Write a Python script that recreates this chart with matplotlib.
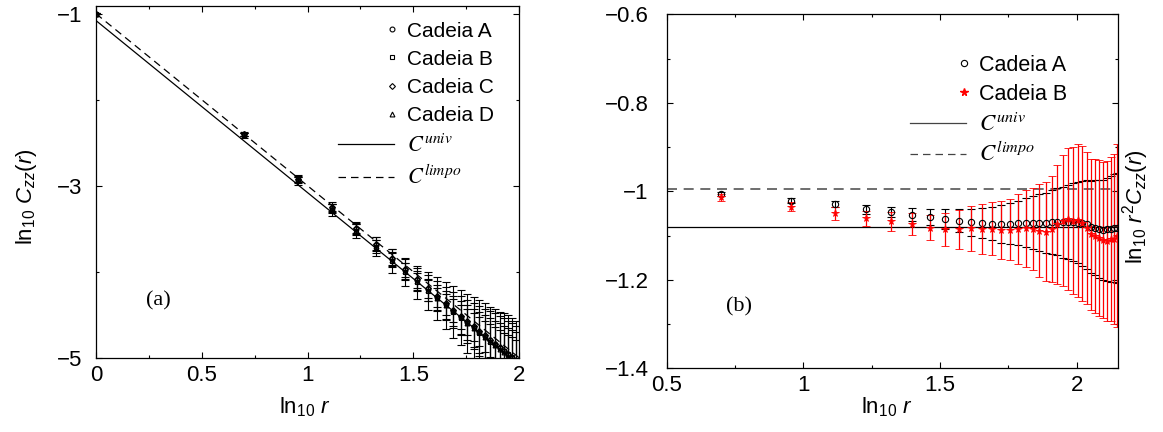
import matplotlib
matplotlib.use('Agg')
import matplotlib.pyplot as plt
from matplotlib.lines import Line2D
from matplotlib.legend_handler import HandlerBase
from matplotlib.ticker import FixedLocator, FuncFormatter

plt.rcParams['font.family'] = ['Liberation Sans', 'DejaVu Sans']
plt.rcParams['mathtext.fontset'] = 'custom'
plt.rcParams['mathtext.rm'] = 'Liberation Sans'
plt.rcParams['mathtext.it'] = 'Liberation Sans:italic'
plt.rcParams['mathtext.bf'] = 'Liberation Sans:bold'

# ---- data: panel (a), ln10 C_zz(r) for four chains
x_left = [0.000, 0.699, 0.954, 1.114, 1.230, 1.322, 1.398, 1.462, 1.519, 1.568,
          1.613, 1.653, 1.690, 1.724, 1.756, 1.785, 1.813, 1.839, 1.863, 1.886,
          1.908, 1.929, 1.949, 1.968, 1.987]
yA_left = [-1.000, -2.403, -2.928, -3.257, -3.501, -3.691, -3.849, -3.982, -4.101, -4.202,
           -4.296, -4.378, -4.453, -4.522, -4.585, -4.642, -4.697, -4.749, -4.797, -4.843,
           -4.886, -4.927, -4.968, -5.005, -5.044]
yB_left = [-1.000, -2.412, -2.943, -3.278, -3.521, -3.712, -3.871, -4.006, -4.123, -4.222,
           -4.310, -4.391, -4.468, -4.537, -4.602, -4.656, -4.709, -4.763, -4.816, -4.857,
           -4.893, -4.920, -4.958, -4.996, -5.040]
yC_left = [-1.000, -2.398, -2.920, -3.248, -3.490, -3.680, -3.836, -3.968, -4.087, -4.190,
           -4.282, -4.366, -4.441, -4.510, -4.574, -4.632, -4.688, -4.740, -4.789, -4.836,
           -4.880, -4.921, -4.961, -5.000, -5.036]
yD_left = [-1.000, -2.407, -2.934, -3.265, -3.510, -3.702, -3.860, -3.994, -4.112, -4.214,
           -4.305, -4.388, -4.462, -4.531, -4.594, -4.650, -4.705, -4.757, -4.806, -4.851,
           -4.895, -4.936, -4.976, -5.014, -5.052]
eA_left = [0.005, 0.02, 0.03, 0.04, 0.05, 0.06, 0.07, 0.08, 0.09, 0.10,
           0.11, 0.12, 0.13, 0.14, 0.15, 0.16, 0.17, 0.18, 0.19, 0.20,
           0.21, 0.22, 0.23, 0.24, 0.25]
eB_left = [0.005, 0.03, 0.05, 0.07, 0.09, 0.11, 0.14, 0.16, 0.19, 0.22,
           0.25, 0.27, 0.30, 0.32, 0.34, 0.36, 0.38, 0.40, 0.41, 0.42,
           0.43, 0.44, 0.45, 0.46, 0.47]
eC_left = [0.005, 0.025, 0.04, 0.055, 0.07, 0.085, 0.10, 0.115, 0.13, 0.15,
           0.17, 0.19, 0.21, 0.23, 0.25, 0.27, 0.29, 0.31, 0.33, 0.35,
           0.37, 0.38, 0.39, 0.40, 0.41]
eD_left = [0.005, 0.02, 0.035, 0.05, 0.06, 0.075, 0.09, 0.10, 0.115, 0.13,
           0.145, 0.16, 0.175, 0.19, 0.205, 0.22, 0.235, 0.25, 0.265, 0.28,
           0.295, 0.31, 0.325, 0.34, 0.355]
line_x_left = [0.0, 2.0]
univ_left = [-1.08, -5.08]
limpo_left = [-1.0, -5.0]

# ---- data: panel (b), ln10 r^2 C_zz(r)
x_right = [0.699, 0.954, 1.114, 1.230, 1.322, 1.398, 1.462, 1.519, 1.568, 1.613,
           1.653, 1.690, 1.724, 1.756, 1.785, 1.813, 1.839, 1.863, 1.886, 1.908,
           1.929, 1.949, 1.968, 1.987, 2.004, 2.021, 2.037, 2.053, 2.068, 2.083,
           2.097, 2.111, 2.124, 2.137, 2.149]
yA_right = [-1.006, -1.021, -1.029, -1.041, -1.047, -1.053, -1.059, -1.063, -1.067, -1.070,
            -1.072, -1.073, -1.074, -1.073, -1.072, -1.071, -1.071, -1.071, -1.071, -1.070,
            -1.069, -1.070, -1.069, -1.070, -1.071, -1.072, -1.075, -1.080, -1.082, -1.085,
            -1.087, -1.086, -1.085, -1.084, -1.083]
eA_right = [0.004, 0.006, 0.007, 0.010, 0.012, 0.015, 0.018, 0.022, 0.026, 0.030,
            0.034, 0.038, 0.042, 0.046, 0.050, 0.055, 0.060, 0.064, 0.068, 0.072,
            0.076, 0.080, 0.084, 0.088, 0.092, 0.096, 0.100, 0.104, 0.107, 0.110,
            0.113, 0.116, 0.119, 0.122, 0.125]
yB_right = [-1.014, -1.035, -1.050, -1.061, -1.068, -1.074, -1.082, -1.086, -1.086, -1.084,
            -1.085, -1.085, -1.087, -1.087, -1.085, -1.083, -1.085, -1.089, -1.091, -1.086,
            -1.075, -1.066, -1.063, -1.066, -1.065, -1.072, -1.083, -1.097, -1.100, -1.106,
            -1.110, -1.112, -1.108, -1.107, -1.100]
eB_right = [0.007, 0.010, 0.014, 0.017, 0.021, 0.024, 0.029, 0.037, 0.044, 0.050,
            0.056, 0.060, 0.065, 0.069, 0.080, 0.087, 0.092, 0.105, 0.111, 0.120,
            0.135, 0.147, 0.160, 0.167, 0.173, 0.175, 0.171, 0.171, 0.174, 0.176,
            0.177, 0.181, 0.185, 0.192, 0.207]
univ_right = -1.080
limpo_right = -0.995

labels_left = ['Cadeia A', 'Cadeia B', 'Cadeia C', 'Cadeia D', r'$C^{univ}$', r'$C^{limpo}$']
labels_right = ['Cadeia A', 'Cadeia B', r'$C^{univ}$', r'$C^{limpo}$']

xticks_left = [0, 0.5, 1, 1.5, 2]
xminor_left = [0.25, 0.75, 1.25, 1.75]
yticks_left = [-5, -3, -1]
yminor_left = [-4, -2]
xticks_right = [0.5, 1, 1.5, 2]
xminor_right = [0.75, 1.25, 1.75]
yticks_right = [-1.4, -1.2, -1.0, -0.8, -0.6]
yminor_right = [-1.3, -1.1, -0.9, -0.7]


class MarkerAtEnd(HandlerBase):
    # gnuplot style key: the symbol sits at the right end of the sample
    def create_artists(self, legend, orig_handle, xdescent, ydescent,
                       width, height, fontsize, trans):
        m = Line2D([width - xdescent - 0.1 * fontsize], [(height - ydescent) / 2])
        m.update_from(orig_handle)
        m.set_linestyle('none')
        m.set_transform(trans)
        return [m]


fmt = FuncFormatter(lambda v, _: ('%g' % round(v, 3)).replace('-', '\u2212'))


def style_axes(ax, xmaj, xmin, ymaj, ymin):
    ax.xaxis.set_major_locator(FixedLocator(xmaj))
    ax.xaxis.set_minor_locator(FixedLocator(xmin))
    ax.yaxis.set_major_locator(FixedLocator(ymaj))
    ax.yaxis.set_minor_locator(FixedLocator(ymin))
    ax.xaxis.set_major_formatter(fmt)
    ax.yaxis.set_major_formatter(fmt)
    ax.tick_params(which='both', direction='in', top=True, right=True, labelsize=16, width=0.8)
    ax.tick_params(which='major', length=4)
    ax.tick_params(which='minor', length=2.5)
    ax.tick_params(axis='x', pad=5)
    ax.tick_params(axis='y', pad=10)
    for s in ax.spines.values():
        s.set_linewidth(0.9)


fig = plt.figure(figsize=(11.63, 4.32), dpi=100)

# ---------------- panel (a)
ax1 = fig.add_axes([96 / 1163, 1 - 357.7 / 432, 423 / 1163, 352 / 432])
ax1.plot(line_x_left, univ_left, 'k-', lw=0.9)
ax1.plot(line_x_left, limpo_left, 'k--', lw=0.9, dashes=(6, 4))
chains = [(yA_left, eA_left, 'o'), (yB_left, eB_left, 's'),
          (yC_left, eC_left, 'D'), (yD_left, eD_left, '^')]
for y, e, mk in chains:
    ax1.errorbar(x_left, y, yerr=e, fmt=mk, ms=3.5 if mk != 'D' else 3,
                 mfc='none', mec='k', mew=0.8, ecolor='k', elinewidth=0.8,
                 capsize=3, capthick=0.8)
ax1.set_xlim(0, 2)
ax1.set_ylim(-5, -0.907)
style_axes(ax1, xticks_left, xminor_left, yticks_left, yminor_left)
ax1.set_xlabel(r'ln$_{10}$ $r$', fontsize=16)
ax1.set_ylabel(r'ln$_{10}$ $C_{zz}(r)$', fontsize=16)
ax1.xaxis.set_label_coords(0.494, -0.108)
ax1.yaxis.set_label_coords(-0.135, 0.457)
ax1.text(0.293, -4.337, '(a)', family='Liberation Serif', fontsize=16, ha='center', va='center')

h_left = [Line2D([], [], marker=m, ls='none', mfc='none', mec='k', mew=0.8, ms=3.5)
          for m in ['o', 's', 'D', '^']]
h_left[2].set_markersize(3)
h_left += [Line2D([], [], color='k', lw=0.9),
           Line2D([], [], color='k', lw=0.9, ls='--', dashes=(6, 4))]
leg1 = ax1.legend(h_left, labels_left, handler_map={h: MarkerAtEnd() for h in h_left[:4]},
                  loc='upper left', bbox_to_anchor=(0.572, 0.955), frameon=False,
                  borderpad=0, borderaxespad=0, handlelength=2.7, handletextpad=0.6,
                  labelspacing=0.44, fontsize=15)
for t in leg1.get_texts()[4:]:
    t.set_math_fontfamily('stix')
    t.set_fontsize(16)

# ---------------- panel (b)
ax2 = fig.add_axes([666.7 / 1163, 1 - 368.3 / 432, 451 / 1163, 354 / 432])
ax2.axhline(univ_right, color='k', lw=0.9)
ax2.axhline(limpo_right, color='#555555', lw=1.2, ls='--', dashes=(6, 4))
ax2.errorbar(x_right, yA_right, yerr=eA_right, fmt='o', ms=4.5, mfc='none', mec='k',
             mew=0.8, ecolor='k', elinewidth=0.8, capsize=3, capthick=0.8)
ax2.errorbar(x_right, yB_right, yerr=eB_right, fmt='*', ms=5.5, mfc='#ff0000', mec='#ff0000',
             mew=0.6, ecolor='#ff0000', elinewidth=0.9, capsize=3, capthick=0.9)
ax2.set_xlim(0.5, 2.15)
ax2.set_ylim(-1.4, -0.6)
style_axes(ax2, xticks_right, xminor_right, yticks_right, yminor_right)
ax2.tick_params(axis='y', pad=13)
ax2.set_xlabel(r'ln$_{10}$ $r$', fontsize=16)
ax2.set_ylabel(r'ln$_{10}$ $r^{2}C_{zz}(r)$', fontsize=16)
ax2.yaxis.set_label_position('right')
ax2.xaxis.set_label_coords(0.489, -0.077)
ax2.yaxis.set_label_coords(1.005, 0.456)
ax2.text(0.766, -1.262, '(b)', family='Liberation Serif', fontsize=16, ha='center', va='center')

h_right = [Line2D([], [], marker='o', ls='none', mfc='none', mec='k', mew=0.8, ms=4.5),
           Line2D([], [], marker='*', ls='none', mfc='#ff0000', mec='#ff0000', ms=5.5),
           Line2D([], [], color='#444444', lw=0.9),
           Line2D([], [], color='#444444', lw=0.9, ls='--', dashes=(6, 4))]
leg2 = ax2.legend(h_right, labels_right, handler_map={h: MarkerAtEnd() for h in h_right[:2]},
                  loc='upper left', bbox_to_anchor=(0.539, 0.885), frameon=False,
                  borderpad=0, borderaxespad=0, handlelength=2.6, handletextpad=0.6,
                  labelspacing=0.36, fontsize=15.5)
for t in leg2.get_texts()[2:]:
    t.set_math_fontfamily('stix')
    t.set_fontsize(16.5)

fig.savefig('out.png', dpi=100)
